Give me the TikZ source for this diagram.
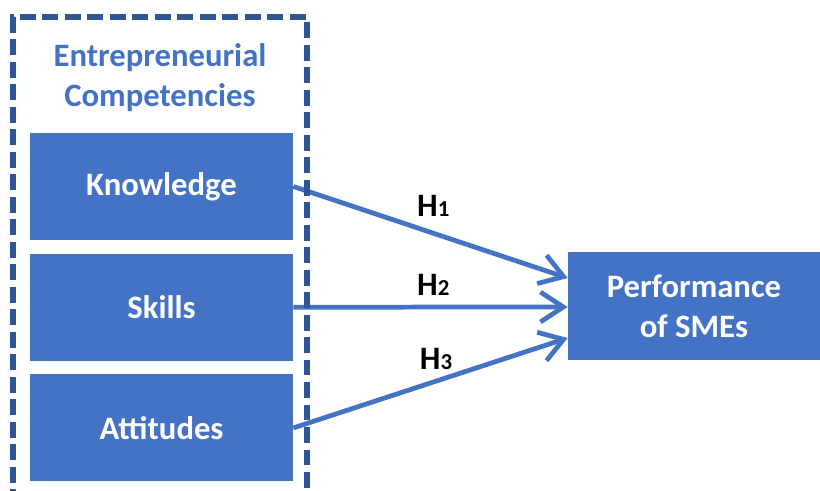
\documentclass[tikz,border=0pt]{standalone}
\usepackage{fontspec}
\setmainfont{Carlito}
\usetikzlibrary{arrows.meta}
\usetikzlibrary{positioning}
\definecolor{royal}{RGB}{68, 114, 196}
\definecolor{navy}{RGB}{47, 85, 151}

\newcommand{\hsub}[1]{{\fontsize{13}{13}\selectfont #1}}

\tikzset{
    block/.style={fill=royal, text=white, inner sep=0pt, align=center,
                  minimum width=5.26cm, minimum height=2.14cm,
                  font=\fontsize{18.6}{22.7}\selectfont\bfseries},
    heading/.style={text=royal, align=center, font=\fontsize{18.6}{22.7}\selectfont\bfseries},
    link/.style={royal, line width=2.7pt, -{Straight Barb[length=13pt, width=17pt]}},
    hyp/.style={text=black, font=\fontsize{18.6}{22.7}\selectfont\bfseries}
}

\begin{document}
\begin{tikzpicture}
            \useasboundingbox                                             (0.00, 0.00) rectangle (16.40, 9.80);
            \node[heading]                    (title)       at ( 3.20, 8.24) {Entrepreneurial\\Competencies};
            \node[block]                      (knowledge)   at ( 3.23, 6.07) {Knowledge};
            \node[block, below=0.26cm of knowledge] (skills)              {Skills};
            \node[block, below=0.26cm of skills]    (attitudes)           {Attitudes};
            \node[block, minimum width=5.04cm, minimum height=2.16cm]
                                              (performance) at (13.88, 3.68) {Performance\\of SMEs};
            \draw[link] (knowledge.east) -- ([yshift= 0.56cm]performance.west)
                 node[hyp, pos=0.51, above=5pt] (h1) {H\hsub{1}};
            \draw[link] (skills.east)    -- ([yshift=-0.02cm]performance.west)
                 node[hyp, pos=0.51, above=2pt] (h2) {H\hsub{2}};
            \draw[link] (attitudes.east) -- ([yshift=-0.64cm]performance.west)
                 node[hyp, pos=0.52, above=2pt] (h3) {H\hsub{3}};
            \draw[navy, line width=3pt, dash pattern=on 9pt off 3.8pt]    (0.26,-0.30) -- (0.26, 9.46) -- (6.14, 9.46) -- (6.14,-0.30);
        \end{tikzpicture}
\end{document}
